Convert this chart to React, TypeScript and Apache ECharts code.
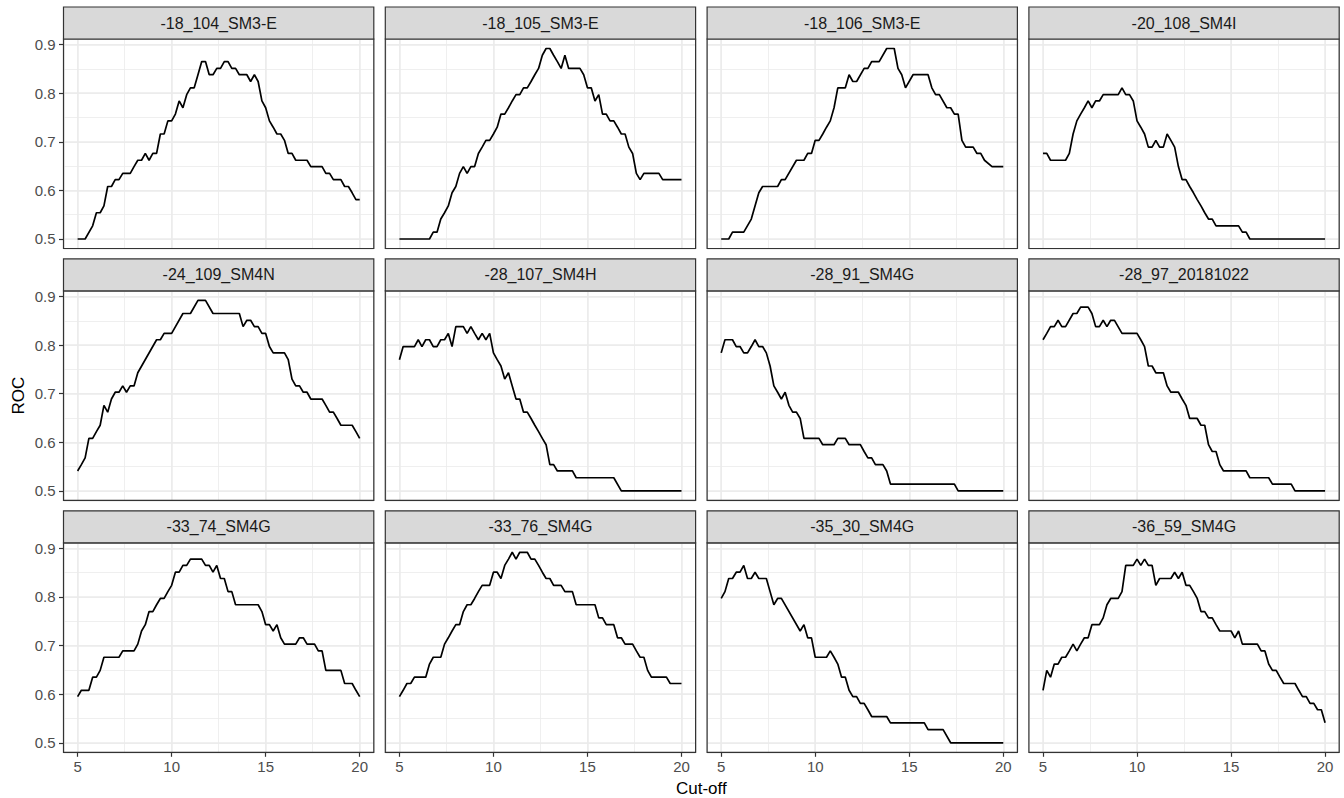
import React, { useEffect, useRef } from "react";
import * as echarts from "echarts";

// ---------- data ----------
const PANEL_NAMES = [
  "-18_104_SM3-E", "-18_105_SM3-E", "-18_106_SM3-E", "-20_108_SM4I",
  "-24_109_SM4N", "-28_107_SM4H", "-28_91_SM4G", "-28_97_20181022",
  "-33_74_SM4G", "-33_76_SM4G", "-35_30_SM4G", "-36_59_SM4G",
];

const P1: [number, number][] = [[5,0.5],[5.4,0.5],[5.8,0.527],[6.0,0.554],[6.2,0.554],[6.4,0.568],[6.6,0.608],[6.8,0.608],[7.0,0.622],[7.2,0.622],[7.4,0.635],[7.8,0.635],[8.0,0.649],[8.2,0.662],[8.4,0.662],[8.6,0.676],[8.8,0.662],[9.0,0.676],[9.2,0.676],[9.4,0.716],[9.6,0.716],[9.8,0.743],[10.0,0.743],[10.2,0.757],[10.4,0.784],[10.6,0.770],[10.8,0.797],[11.0,0.811],[11.2,0.811],[11.4,0.838],[11.6,0.865],[11.8,0.865],[12.0,0.838],[12.2,0.838],[12.4,0.851],[12.6,0.851],[12.8,0.865],[13.0,0.865],[13.2,0.851],[13.4,0.851],[13.6,0.838],[14.0,0.838],[14.2,0.824],[14.4,0.838],[14.6,0.824],[14.8,0.784],[15.0,0.770],[15.2,0.743],[15.4,0.730],[15.6,0.716],[15.8,0.716],[16.0,0.703],[16.2,0.676],[16.4,0.676],[16.6,0.662],[17.2,0.662],[17.4,0.649],[18.0,0.649],[18.2,0.635],[18.4,0.635],[18.6,0.622],[19.0,0.622],[19.2,0.608],[19.4,0.608],[19.6,0.595],[19.8,0.581],[20.0,0.581]];
const P2: [number, number][] = [[5,0.5],[6.6,0.5],[6.8,0.514],[7.0,0.514],[7.2,0.541],[7.4,0.554],[7.6,0.568],[7.8,0.595],[8.0,0.608],[8.2,0.635],[8.4,0.649],[8.6,0.635],[8.8,0.649],[9.0,0.649],[9.2,0.676],[9.4,0.689],[9.6,0.703],[9.8,0.703],[10.0,0.716],[10.2,0.730],[10.4,0.757],[10.6,0.757],[10.8,0.770],[11.0,0.784],[11.2,0.797],[11.4,0.797],[11.6,0.811],[11.8,0.811],[12.0,0.824],[12.2,0.838],[12.4,0.851],[12.6,0.878],[12.8,0.892],[13.0,0.892],[13.2,0.878],[13.4,0.865],[13.6,0.851],[13.8,0.878],[14.0,0.851],[14.6,0.851],[14.8,0.838],[15.0,0.811],[15.2,0.811],[15.4,0.784],[15.6,0.797],[15.8,0.757],[16.0,0.757],[16.2,0.743],[16.4,0.743],[16.6,0.730],[16.8,0.716],[17.0,0.716],[17.2,0.689],[17.4,0.676],[17.6,0.635],[17.8,0.622],[18.0,0.635],[18.8,0.635],[19.0,0.622],[20.0,0.622]];
const P3: [number, number][] = [[5,0.5],[5.4,0.5],[5.6,0.514],[6.2,0.514],[6.6,0.541],[7.0,0.595],[7.2,0.608],[8.0,0.608],[8.2,0.622],[8.4,0.622],[9.0,0.662],[9.4,0.662],[9.6,0.676],[9.8,0.676],[10.0,0.703],[10.2,0.703],[10.4,0.716],[10.6,0.730],[10.8,0.743],[11.0,0.770],[11.2,0.811],[11.6,0.811],[11.8,0.838],[12.0,0.824],[12.2,0.824],[12.6,0.851],[12.8,0.851],[13.0,0.865],[13.4,0.865],[13.8,0.892],[14.2,0.892],[14.4,0.851],[14.6,0.838],[14.8,0.811],[15.2,0.838],[16.0,0.838],[16.2,0.811],[16.4,0.797],[16.6,0.797],[17.0,0.770],[17.2,0.770],[17.4,0.757],[17.6,0.757],[17.8,0.703],[18.0,0.689],[18.4,0.689],[18.6,0.676],[18.8,0.676],[19.0,0.662],[19.4,0.649],[20.0,0.649]];
const P4: [number, number][] = [[5,0.676],[5.2,0.676],[5.4,0.662],[6.2,0.662],[6.4,0.676],[6.6,0.716],[6.8,0.743],[7.0,0.757],[7.2,0.770],[7.4,0.784],[7.6,0.770],[7.8,0.784],[8.0,0.784],[8.2,0.797],[9.0,0.797],[9.2,0.811],[9.4,0.797],[9.6,0.797],[9.8,0.784],[10.0,0.743],[10.2,0.730],[10.4,0.716],[10.6,0.689],[10.8,0.689],[11.0,0.703],[11.2,0.689],[11.4,0.689],[11.6,0.716],[11.8,0.703],[12.0,0.689],[12.2,0.649],[12.4,0.622],[12.6,0.622],[12.8,0.608],[13.0,0.595],[13.2,0.581],[13.4,0.568],[13.6,0.554],[13.8,0.541],[14.0,0.541],[14.2,0.527],[15.4,0.527],[15.6,0.514],[15.8,0.514],[16.0,0.5],[20,0.5]];
const P5: [number, number][] = [[5,0.541],[5.2,0.554],[5.4,0.568],[5.6,0.608],[5.8,0.608],[6.0,0.622],[6.2,0.635],[6.4,0.676],[6.6,0.662],[6.8,0.689],[7.0,0.703],[7.2,0.703],[7.4,0.716],[7.6,0.703],[7.8,0.716],[8.0,0.716],[8.2,0.743],[9.2,0.811],[9.4,0.811],[9.6,0.824],[10.0,0.824],[10.6,0.865],[11.0,0.865],[11.4,0.892],[11.8,0.892],[12.2,0.865],[13.6,0.865],[13.8,0.838],[14.0,0.851],[14.2,0.851],[14.4,0.838],[14.6,0.838],[14.8,0.824],[15.0,0.824],[15.2,0.797],[15.4,0.784],[16.0,0.784],[16.2,0.770],[16.4,0.730],[16.6,0.716],[16.8,0.716],[17.0,0.703],[17.2,0.703],[17.4,0.689],[18.0,0.689],[18.2,0.676],[18.4,0.662],[18.6,0.662],[18.8,0.649],[19.0,0.635],[19.6,0.635],[19.8,0.622],[20.0,0.608]];
const P6: [number, number][] = [[5,0.770],[5.2,0.797],[5.8,0.797],[6.0,0.811],[6.2,0.797],[6.4,0.811],[6.6,0.811],[6.8,0.797],[7.0,0.797],[7.2,0.811],[7.4,0.811],[7.6,0.824],[7.8,0.797],[8.0,0.838],[8.4,0.838],[8.6,0.824],[8.8,0.838],[9.0,0.824],[9.2,0.811],[9.4,0.824],[9.6,0.811],[9.8,0.824],[10.0,0.784],[10.2,0.770],[10.4,0.757],[10.6,0.730],[10.8,0.743],[11.0,0.716],[11.2,0.689],[11.4,0.689],[11.6,0.662],[11.8,0.662],[12.0,0.649],[12.2,0.635],[12.4,0.622],[12.6,0.608],[12.8,0.595],[13.0,0.554],[13.2,0.554],[13.4,0.541],[14.2,0.541],[14.4,0.527],[16.4,0.527],[16.8,0.5],[20,0.5]];
const P7: [number, number][] = [[5,0.784],[5.2,0.811],[5.6,0.811],[5.8,0.797],[6.0,0.797],[6.2,0.784],[6.4,0.784],[6.6,0.797],[6.8,0.811],[7.0,0.797],[7.2,0.797],[7.4,0.784],[7.6,0.757],[7.8,0.716],[8.0,0.703],[8.2,0.689],[8.4,0.703],[8.6,0.676],[8.8,0.662],[9.0,0.662],[9.2,0.649],[9.4,0.608],[10.2,0.608],[10.4,0.595],[11.0,0.595],[11.2,0.608],[11.6,0.608],[11.8,0.595],[12.4,0.595],[12.6,0.581],[12.8,0.568],[13.0,0.568],[13.2,0.554],[13.6,0.554],[13.8,0.541],[14.0,0.514],[17.4,0.514],[17.6,0.5],[20,0.5]];
const P8: [number, number][] = [[5,0.811],[5.2,0.824],[5.4,0.838],[5.6,0.838],[5.8,0.851],[6.0,0.838],[6.2,0.838],[6.6,0.865],[6.8,0.865],[7.0,0.878],[7.4,0.878],[7.6,0.865],[7.8,0.838],[8.0,0.838],[8.2,0.851],[8.4,0.838],[8.6,0.851],[8.8,0.851],[9.2,0.824],[10.0,0.824],[10.2,0.811],[10.4,0.797],[10.6,0.757],[10.8,0.757],[11.0,0.743],[11.4,0.743],[11.6,0.716],[11.8,0.703],[12.2,0.703],[12.4,0.689],[12.6,0.676],[12.8,0.649],[13.2,0.649],[13.4,0.635],[13.6,0.635],[13.8,0.595],[14.0,0.581],[14.2,0.581],[14.4,0.554],[14.6,0.541],[15.8,0.541],[16.0,0.527],[17.0,0.527],[17.2,0.514],[18.2,0.514],[18.4,0.5],[20,0.5]];
const P9: [number, number][] = [[5,0.595],[5.2,0.608],[5.6,0.608],[5.8,0.635],[6.0,0.635],[6.2,0.649],[6.4,0.676],[7.2,0.676],[7.4,0.689],[8.0,0.689],[8.2,0.703],[8.4,0.730],[8.6,0.743],[8.8,0.770],[9.0,0.770],[9.2,0.784],[9.4,0.797],[9.6,0.797],[9.8,0.811],[10.0,0.824],[10.2,0.851],[10.4,0.851],[10.6,0.865],[10.8,0.865],[11.0,0.878],[11.6,0.878],[11.8,0.865],[12.0,0.865],[12.2,0.851],[12.4,0.865],[12.6,0.838],[12.8,0.838],[13.0,0.811],[13.2,0.811],[13.4,0.784],[14.6,0.784],[14.8,0.770],[15.0,0.743],[15.2,0.743],[15.4,0.730],[15.6,0.743],[15.8,0.716],[16.0,0.703],[16.6,0.703],[16.8,0.716],[17.0,0.716],[17.2,0.703],[17.6,0.703],[17.8,0.689],[18.0,0.689],[18.2,0.649],[19.0,0.649],[19.2,0.622],[19.6,0.622],[19.8,0.608],[20.0,0.595]];
const P10: [number, number][] = [[5,0.595],[5.2,0.608],[5.4,0.622],[5.6,0.622],[5.8,0.635],[6.4,0.635],[6.6,0.662],[6.8,0.676],[7.2,0.676],[7.4,0.703],[7.6,0.716],[7.8,0.730],[8.0,0.743],[8.2,0.743],[8.4,0.770],[8.6,0.784],[8.8,0.784],[9.0,0.797],[9.2,0.811],[9.4,0.824],[9.8,0.824],[10.0,0.851],[10.2,0.851],[10.4,0.838],[10.6,0.865],[10.8,0.878],[11.0,0.892],[11.2,0.878],[11.4,0.892],[11.8,0.892],[12.0,0.878],[12.2,0.878],[12.4,0.865],[12.6,0.851],[12.8,0.838],[13.0,0.838],[13.2,0.824],[13.6,0.824],[13.8,0.811],[14.2,0.811],[14.4,0.784],[15.4,0.784],[15.6,0.757],[15.8,0.757],[16.0,0.743],[16.4,0.743],[16.6,0.716],[16.8,0.716],[17.0,0.703],[17.4,0.703],[17.6,0.689],[17.8,0.676],[18.0,0.676],[18.2,0.649],[18.4,0.635],[19.2,0.635],[19.4,0.622],[20,0.622]];
const P11: [number, number][] = [[5,0.797],[5.2,0.811],[5.4,0.838],[5.6,0.838],[5.8,0.851],[6.0,0.851],[6.2,0.865],[6.4,0.838],[6.6,0.838],[6.8,0.851],[7.0,0.838],[7.4,0.838],[7.6,0.811],[7.8,0.784],[8.0,0.797],[8.2,0.797],[9.2,0.730],[9.4,0.743],[9.6,0.716],[9.8,0.716],[10.0,0.676],[10.6,0.676],[10.8,0.689],[11.0,0.676],[11.2,0.662],[11.4,0.635],[11.6,0.635],[11.8,0.608],[12.0,0.595],[12.2,0.595],[12.4,0.581],[12.6,0.581],[12.8,0.568],[13.0,0.554],[13.8,0.554],[14.0,0.541],[15.8,0.541],[16.0,0.527],[16.8,0.527],[17.2,0.5],[20,0.5]];
const P12: [number, number][] = [[5,0.608],[5.2,0.649],[5.4,0.635],[5.6,0.662],[5.8,0.662],[6.0,0.676],[6.2,0.676],[6.4,0.689],[6.6,0.703],[6.8,0.689],[7.0,0.703],[7.2,0.716],[7.4,0.716],[7.6,0.743],[8.0,0.743],[8.2,0.757],[8.4,0.784],[8.6,0.797],[9.0,0.797],[9.2,0.811],[9.4,0.865],[9.8,0.865],[10.0,0.878],[10.2,0.865],[10.4,0.878],[10.6,0.865],[10.8,0.865],[11.0,0.824],[11.2,0.838],[11.8,0.838],[12.0,0.851],[12.2,0.838],[12.4,0.851],[12.6,0.824],[12.8,0.824],[13.0,0.811],[13.2,0.797],[13.4,0.770],[13.6,0.770],[13.8,0.757],[14.0,0.757],[14.2,0.743],[14.4,0.730],[15.0,0.730],[15.2,0.716],[15.4,0.730],[15.6,0.703],[16.4,0.703],[16.6,0.689],[16.8,0.689],[17.0,0.662],[17.2,0.649],[17.4,0.649],[17.6,0.635],[17.8,0.622],[18.4,0.622],[18.6,0.608],[18.8,0.595],[19.0,0.595],[19.2,0.581],[19.4,0.581],[19.6,0.568],[19.8,0.568],[20.0,0.541]];

const PANEL_DATA = [P1, P2, P3, P4, P5, P6, P7, P8, P9, P10, P11, P12];

const X_TITLE = "Cut-off";
const Y_TITLE = "ROC";
const X_DATA_RANGE = [5, 20];
const Y_DATA_RANGE = [0.5, 0.9];
const X_LIMITS = [4.25, 20.75];
const Y_LIMITS = [0.4804, 0.9115];

// ---------- layout / style ----------
const FONT = "'Liberation Sans', Arial, Helvetica, sans-serif";
const COL_LEFT = 63.5;
const COL_PITCH = 321.8;
const PANEL_W = 310.3;
const ROW_TOP = 7;
const ROW_PITCH = 251.9;
const STRIP_H = 32;
const PANEL_H = 209.5;
const GRID_COLOR = "#EBEBEB";
const DARK = "#333333";
const TICK_FONT = 15;
const STRIP_FONT = 16;
const TITLE_FONT = 17;

function buildOption() {
  const grid: any[] = [];
  const xAxis: any[] = [];
  const yAxis: any[] = [];
  const series: any[] = [];
  const graphic: any[] = [];

  const xSpan = X_LIMITS[1] - X_LIMITS[0];
  const ySpan = Y_LIMITS[1] - Y_LIMITS[0];

  PANEL_NAMES.forEach((name, i) => {
    const r = Math.floor(i / 4);
    const c = i % 4;
    const pl = COL_LEFT + c * COL_PITCH;
    const pt = ROW_TOP + r * ROW_PITCH + STRIP_H;
    const ix = pl + ((X_DATA_RANGE[0] - X_LIMITS[0]) / xSpan) * PANEL_W;
    const iw = ((X_DATA_RANGE[1] - X_DATA_RANGE[0]) / xSpan) * PANEL_W;
    const iy = pt + ((Y_LIMITS[1] - Y_DATA_RANGE[1]) / ySpan) * PANEL_H;
    const ih = ((Y_DATA_RANGE[1] - Y_DATA_RANGE[0]) / ySpan) * PANEL_H;
    const xOffset = pt + PANEL_H - (iy + ih);
    const yOffset = ix - pl;

    const base = grid.length;
    const hidden = { axisLine: { show: false }, axisTick: { show: false }, axisLabel: { show: false } };

    // minor grid lines
    grid.push({ left: pl, top: pt, width: PANEL_W, height: PANEL_H });
    xAxis.push({ gridIndex: base, type: "value", min: X_LIMITS[0], max: X_LIMITS[1], minInterval: 2.5, maxInterval: 2.5, ...hidden,
      splitLine: { show: true, lineStyle: { color: GRID_COLOR, width: 0.8 } } });
    yAxis.push({ gridIndex: base, type: "value", min: Y_LIMITS[0], max: Y_LIMITS[1], minInterval: 0.05, maxInterval: 0.05, ...hidden,
      splitLine: { show: true, lineStyle: { color: GRID_COLOR, width: 0.8 } } });

    // major grid lines
    grid.push({ left: pl, top: pt, width: PANEL_W, height: PANEL_H });
    xAxis.push({ gridIndex: base + 1, type: "value", min: X_LIMITS[0], max: X_LIMITS[1], minInterval: 5, maxInterval: 5, ...hidden,
      splitLine: { show: true, lineStyle: { color: GRID_COLOR, width: 1.5 } } });
    yAxis.push({ gridIndex: base + 1, type: "value", min: Y_LIMITS[0], max: Y_LIMITS[1], minInterval: 0.1, maxInterval: 0.1, ...hidden,
      splitLine: { show: true, lineStyle: { color: GRID_COLOR, width: 1.5 } } });

    // data grid (exact data range), carries ticks and labels
    const showX = r === 2;
    const showY = c === 0;
    grid.push({ left: ix, top: iy, width: iw, height: ih });
    xAxis.push({
      gridIndex: base + 2, type: "value", min: X_DATA_RANGE[0], max: X_DATA_RANGE[1], interval: 5,
      position: "bottom", offset: xOffset,
      axisLine: { show: false },
      axisTick: { show: showX, length: 4.5, lineStyle: { color: DARK, width: 1.2 } },
      axisLabel: { show: showX, margin: 7, color: "#4D4D4D", fontSize: TICK_FONT, fontFamily: FONT, showMinLabel: true, showMaxLabel: true,
        formatter: (v: number) => String(v) },
      splitLine: { show: false },
    });
    yAxis.push({
      gridIndex: base + 2, type: "value", min: Y_DATA_RANGE[0], max: Y_DATA_RANGE[1], interval: 0.1,
      position: "left", offset: yOffset,
      axisLine: { show: false },
      axisTick: { show: showY, length: 4.5, lineStyle: { color: DARK, width: 1.2 } },
      axisLabel: { show: showY, margin: 8, color: "#4D4D4D", fontSize: TICK_FONT, fontFamily: FONT, showMinLabel: true, showMaxLabel: true,
        formatter: (v: number) => v.toFixed(1) },
      splitLine: { show: false },
    });

    series.push({
      type: "line", name, xAxisIndex: base + 2, yAxisIndex: base + 2,
      data: PANEL_DATA[i], showSymbol: false, symbol: "none", clip: false, silent: true,
      lineStyle: { color: "#000000", width: 1.7 }, z: 3,
    });

    // panel border
    graphic.push({ type: "rect", z: 50, silent: true,
      shape: { x: pl, y: pt, width: PANEL_W, height: PANEL_H },
      style: { fill: "none", stroke: DARK, lineWidth: 1.2 } });
    // strip
    graphic.push({ type: "rect", z: 50, silent: true,
      shape: { x: pl, y: pt - STRIP_H, width: PANEL_W, height: STRIP_H },
      style: { fill: "#D9D9D9", stroke: DARK, lineWidth: 1.2 } });
    graphic.push({ type: "text", z: 51, silent: true, x: pl + PANEL_W / 2, y: pt - STRIP_H / 2,
      style: { text: name, fill: "#1A1A1A", fontSize: STRIP_FONT, fontFamily: FONT,
        align: "center", verticalAlign: "middle", textAlign: "center", textVerticalAlign: "middle" } });
  });

  const plotLeft = COL_LEFT;
  const plotRight = COL_LEFT + 3 * COL_PITCH + PANEL_W;
  const plotTop = ROW_TOP + STRIP_H;
  const plotBottom = ROW_TOP + 2 * ROW_PITCH + STRIP_H + PANEL_H;

  graphic.push({ type: "text", z: 51, silent: true, x: (plotLeft + plotRight) / 2, y: 788,
    style: { text: X_TITLE, fill: "#000000", fontSize: TITLE_FONT, fontFamily: FONT,
      align: "center", verticalAlign: "middle", textAlign: "center", textVerticalAlign: "middle" } });
  graphic.push({ type: "text", z: 51, silent: true, x: 18, y: (plotTop + plotBottom) / 2, rotation: Math.PI / 2,
    style: { text: Y_TITLE, fill: "#000000", fontSize: TITLE_FONT, fontFamily: FONT,
      align: "center", verticalAlign: "middle", textAlign: "center", textVerticalAlign: "middle" } });

  return {
    animation: false,
    backgroundColor: "#FFFFFF",
    textStyle: { fontFamily: FONT },
    grid, xAxis, yAxis, series, graphic,
  };
}

export default function App() {
  const ref = useRef<HTMLDivElement>(null);
  useEffect(() => {
    if (!ref.current) return;
    const chart = echarts.init(ref.current, null, { renderer: "svg" });
    chart.setOption(buildOption() as any);
    return () => chart.dispose();
  }, []);
  return (
    <div
      ref={ref}
      style={{ position: "fixed", left: 0, top: 0, width: 1344, height: 798, background: "#FFFFFF" }}
    />
  );
}
